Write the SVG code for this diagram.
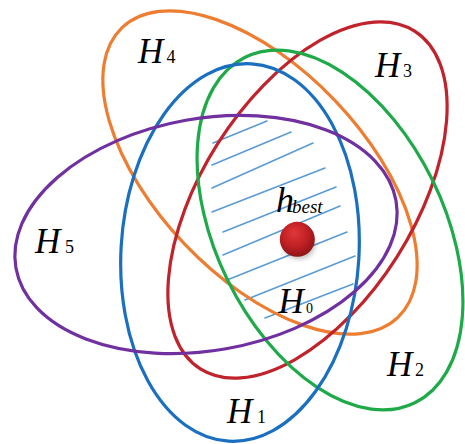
<svg xmlns="http://www.w3.org/2000/svg" width="465" height="444" viewBox="0 0 465 444">
<style>
.e{fill:none;stroke-width:3.2}
.hatch line{stroke:#5b9bd5;stroke-width:1.6;stroke-linecap:round}
.L{font-family:"Liberation Serif","Times New Roman",serif;fill:#000}
.H{font-style:italic;font-size:35px}
.s{font-size:18px}
</style>
<defs>
<radialGradient id="ball" cx="0.45" cy="0.4" r="0.6" fx="0.4" fy="0.3">
<stop offset="0" stop-color="#e0383a"/>
<stop offset="0.6" stop-color="#c02024"/>
<stop offset="1" stop-color="#8e1518"/>
</radialGradient>
<filter id="blur" x="-50%" y="-50%" width="200%" height="200%"><feGaussianBlur stdDeviation="2.5"/></filter>
</defs>
<rect width="465" height="444" fill="#fff"/>
<g id="hatch" class="hatch">
<line x1="213" y1="143" x2="267" y2="121"/>
<line x1="212" y1="165" x2="291" y2="132"/>
<line x1="212" y1="188" x2="313" y2="143"/>
<line x1="212" y1="212" x2="325" y2="168"/>
<line x1="223" y1="232" x2="336" y2="187"/>
<line x1="223" y1="255" x2="340" y2="206"/>
<line x1="227" y1="280" x2="347" y2="232"/>
<line x1="245" y1="300" x2="355" y2="256"/>
<line x1="265" y1="318" x2="353" y2="284"/>
</g>
<g id="H4"><ellipse class="e" stroke="#ed7d31" cx="260" cy="172.5" rx="200" ry="104" transform="rotate(46.4 260 172.5)"/>
<text class="L" y="63.3"><tspan class="H" x="138">H</tspan><tspan class="s" x="166.5">4</tspan></text></g>
<g id="H3"><ellipse class="e" stroke="#c0232b" cx="307.5" cy="200" rx="200" ry="106" transform="rotate(-57.6 307.5 200)"/>
<text class="L" y="76.7"><tspan class="H" x="375">H</tspan><tspan class="s" x="403">3</tspan></text></g>
<g id="H2"><ellipse class="e" stroke="#1faa4a" cx="330" cy="230" rx="192.5" ry="114" transform="rotate(63.85 330 230)"/>
<text class="L" y="376"><tspan class="H" x="387">H</tspan><tspan class="s" x="415">2</tspan></text></g>
<g id="H1"><ellipse class="e" stroke="#1b6fc0" cx="240" cy="252.5" rx="119" ry="189" transform="rotate(3.5 240 252.5)"/>
<text class="L" y="423.3"><tspan class="H" x="227">H</tspan><tspan class="s" x="257">1</tspan></text></g>
<g id="H5"><ellipse class="e" stroke="#7030a0" cx="206" cy="234.5" rx="193" ry="116" transform="rotate(-10 206 234.5)"/>
<text class="L" y="253"><tspan class="H" x="35">H</tspan><tspan class="s" x="65">5</tspan></text></g>
<g id="H0"><text class="L" y="313.3"><tspan class="H" x="278.5">H</tspan><tspan class="s" style="font-size:14px" x="306">0</tspan></text></g>
<g id="hbest">
<ellipse cx="299" cy="245" rx="16" ry="14" fill="#000" opacity="0.25" filter="url(#blur)"/>
<circle cx="297.3" cy="239.3" r="17.5" fill="url(#ball)"/>
<text class="L" y="211.7"><tspan style="font-style:italic;font-size:36px" x="276">h</tspan><tspan style="font-style:italic;font-size:19px" x="292" dy="1">best</tspan></text>
</g>
</svg>
